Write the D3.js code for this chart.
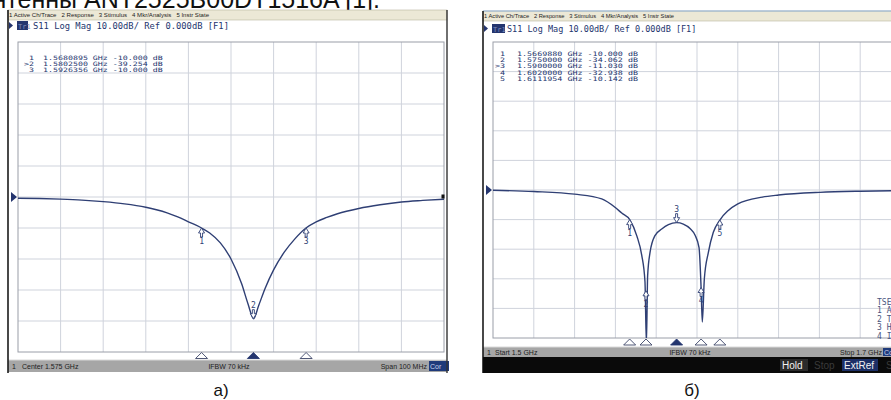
<!DOCTYPE html>
<html><head><meta charset="utf-8">
<script src="https://cdn.jsdelivr.net/npm/d3@7"></script>
<style>body{margin:0;background:#fff;} svg{display:block}</style>
</head><body><svg id="c" width="891" height="400"></svg>
<script>
// ---------- DATA ----------
// Panel a) : S11 single resonance, 1.525 - 1.625 GHz
const freqA = [1.525, 1.530, 1.535, 1.540, 1.545, 1.550, 1.555, 1.5575, 1.560, 1.5625, 1.565, 1.5681, 1.570, 1.5725, 1.575, 1.5775, 1.579, 1.5803, 1.5815, 1.583, 1.585, 1.5875, 1.590, 1.5926, 1.595, 1.5975, 1.600, 1.605, 1.610, 1.615, 1.620, 1.625];
const s11A  = [-0.4, -0.5, -0.7, -1.0, -1.5, -2.2, -3.3, -4.1, -5.1, -6.4, -8.0, -10.0, -11.6, -14.8, -20.0, -28.0, -34.5, -39.25, -35.0, -29.5, -23.5, -17.8, -13.5, -10.0, -8.0, -6.6, -5.4, -3.7, -2.5, -1.6, -1.1, -0.7];
const markerIdA   = ["1", "2", "3"];
const markerFreqA = [1.5680895, 1.5802500, 1.5926356];
const markerDbA   = [-10.000, -39.254, -10.000];
const activeA = 1;

// Panel б) : S11 dual resonance, 1.5 - 1.7 GHz
const freqB = [1.500, 1.520, 1.540, 1.5533, 1.5601, 1.5631, 1.567, 1.5705, 1.5729, 1.5745, 1.5752, 1.5758, 1.5770, 1.5794, 1.5827, 1.5860, 1.5900, 1.5933, 1.5966, 1.5990, 1.6010, 1.6020, 1.6026, 1.6036, 1.6056, 1.6080, 1.6112, 1.6152, 1.6200, 1.6320, 1.6400, 1.6600, 1.6800, 1.7000];
const s11B  = [-0.1, -0.5, -1.4, -3.0, -6.0, -7.8, -10.0, -15.5, -22.0, -31.0, -52.0, -29.0, -21.0, -15.4, -13.2, -11.7, -11.03, -11.5, -13.0, -15.2, -19.5, -32.9, -44.6, -30.0, -21.0, -14.3, -10.14, -7.0, -4.7, -2.4, -1.7, -0.8, -0.4, -0.2];
const markerIdB   = ["1", "2", "3", "4", "5"];
const markerFreqB = [1.5669880, 1.5750000, 1.5900000, 1.6020000, 1.6111954];
const markerDbB   = [-10.000, -34.062, -11.030, -32.938, -10.142];
const activeB = 2;

// texts
const titleText = "антенны ANT2525B00DT1516A [1].";
const menuItems = ["1 Active Ch/Trace", "2 Response", "3 Stimulus", "4 Mkr/Analysis", "5 Instr State"];
const headerText = "S11 Log Mag 10.00dB/ Ref 0.000dB [F1]";
const statusA = ["Center 1.575 GHz", "IFBW 70 kHz", "Span 100 MHz"];
const statusB = ["Start 1.5 GHz", "IFBW 70 kHz", "Stop 1.7 GHz"];
const softKeysB = ["Hold", "Stop", "ExtRef", "S"];
const tseLines = ["TSE", "1 A", "2 T", "3 H", "4 I"];
const panelLabels = ["а)", "б)"];

// ---------- DRAW ----------
const svg = d3.select("#c");
const NAVY = "#24356e", TRACE = "#2f3f74", GRID = "#cfd3dc", MONO = "DejaVu Sans Mono, monospace";

svg.append("text").attr("x", 380).attr("y", 8).attr("text-anchor", "end")
  .attr("font-family", "Liberation Sans, Arial, sans-serif").attr("font-size", 25)
  .attr("fill", "#111").text(titleText);

function panel(cfg) {
  const g = svg.append("g");
  const [fx0, fy0, fx1, fy1] = cfg.frame;
  const [px0, py0, px1, py1] = cfg.plot;
  const x = d3.scaleLinear().domain(cfg.domain).range([px0, px1]);
  const y = d3.scaleLinear().domain([-50, 50]).range([py1, py0]);

  g.append("rect").attr("x", fx0).attr("y", fy0).attr("width", fx1 - fx0).attr("height", fy1 - fy0).attr("fill", "#fff");
  const mb = cfg.menu;
  g.append("rect").attr("x", fx0).attr("y", mb[0]).attr("width", fx1 - fx0).attr("height", mb[1] - mb[0])
    .attr("fill", "#ece8d6").attr("stroke", "#b8b49e").attr("stroke-width", 0.6);
  if (cfg.menuTopBlue) g.append("line").attr("x1", fx0).attr("x2", fx1).attr("y1", mb[0]).attr("y2", mb[0]).attr("stroke", "#8fb1d8").attr("stroke-width", 1);
  g.append("text").attr("x", fx0 + 1).attr("y", mb[0] + 7).attr("font-family", "Liberation Sans, Arial, sans-serif")
    .attr("font-size", 5.6).attr("fill", "#222").attr("textLength", cfg.menuLen).attr("lengthAdjust", "spacingAndGlyphs")
    .attr("xml:space", "preserve").text(menuItems.join("   "));
  const hb = cfg.headerY;
  g.append("path").attr("d", `M${fx0 + 1},${hb - 7}L${fx0 + 5},${hb - 3.5}L${fx0 + 1},${hb}Z`).attr("fill", NAVY);
  g.append("rect").attr("x", cfg.trBox[0]).attr("y", hb - 8).attr("width", cfg.trBox[1]).attr("height", 9).attr("fill", NAVY);
  g.append("text").attr("x", cfg.trBox[0] + 1).attr("y", hb - 0.5).attr("font-family", MONO).attr("font-size", 7).attr("fill", "#7f8fbf").text("Tr1");
  g.append("text").attr("x", cfg.headerX).attr("y", hb).attr("font-family", MONO).attr("font-size", cfg.fs)
    .attr("fill", NAVY).attr("xml:space", "preserve").text(headerText);

  // grid
  const xs = d3.range(11).map(i => cfg.domain[0] + i * (cfg.domain[1] - cfg.domain[0]) / 10);
  const ys = d3.range(-50, 51, 10);
  g.selectAll(null).data(xs.slice(1, 10)).join("line")
    .attr("x1", d => x(d)).attr("x2", d => x(d)).attr("y1", py0).attr("y2", py1).attr("stroke", GRID).attr("stroke-width", 1);
  g.selectAll(null).data(ys.slice(1, 10)).join("line")
    .attr("x1", px0).attr("x2", px1).attr("y1", d => y(d)).attr("y2", d => y(d)).attr("stroke", GRID).attr("stroke-width", 1);
  g.append("rect").attr("x", px0).attr("y", py0).attr("width", px1 - px0).attr("height", py1 - py0)
    .attr("fill", "none").attr("stroke", "#9a9ea8").attr("stroke-width", 1);

  // marker table
  cfg.ids.forEach((id, i) => {
    const by = cfg.tableY + i * cfg.tableDy;
    const row = g.append("g").attr("transform", `translate(0,${by}) scale(1,${cfg.tableSy})`);
    row.append("text").attr("x", cfg.tcols[0]).attr("y", 0).attr("font-family", MONO).attr("font-size", cfg.tfs)
      .attr("fill", NAVY).attr("text-anchor", "end").text((i === cfg.active ? ">" : "") + id);
    row.append("text").attr("x", cfg.tcols[1]).attr("y", 0).attr("font-family", MONO).attr("font-size", cfg.tfs)
      .attr("fill", NAVY).attr("xml:space", "preserve")
      .text(cfg.mf[i].toFixed(7) + " GHz " + cfg.md[i].toFixed(3) + " dB");
  });

  // trace
  const clipId = "clip" + cfg.name;
  svg.append("clipPath").attr("id", clipId).append("rect").attr("x", px0).attr("y", py0).attr("width", px1 - px0).attr("height", py1 - py0);
  const pts = cfg.f.map((f, i) => [f, cfg.s[i]]);
  g.append("path").datum(pts).attr("clip-path", `url(#${clipId})`)
    .attr("d", d3.line().x(d => x(d[0])).y(d => y(d[1])).curve(d3.curveMonotoneX))
    .attr("fill", "none").attr("stroke", TRACE).attr("stroke-width", 1.4);

  // reference arrow
  g.append("path").attr("d", `M${px0 - 7},${y(0) - 5}L${px0 - 1},${y(0)}L${px0 - 7},${y(0) + 5}Z`).attr("fill", NAVY);

  // markers on trace
  cfg.ids.forEach((id, i) => {
    const mx = x(cfg.mf[i]), my = y(cfg.md[i]);
    const s = cfg.dirs[i] === "up" ? 1 : -1;
    const d = `M${mx},${my}L${mx - 3},${my + s * 5}L${mx - 1},${my + s * 5}L${mx - 1},${my + s * 9}L${mx + 1},${my + s * 9}L${mx + 1},${my + s * 5}L${mx + 3},${my + s * 5}Z`;
    g.append("path").attr("d", d).attr("fill", "#fff").attr("stroke", TRACE).attr("stroke-width", 0.9);
    g.append("text").attr("x", mx).attr("y", s > 0 ? my + 16 : my - 11).attr("text-anchor", "middle")
      .attr("font-family", MONO).attr("font-size", 8).attr("fill", TRACE).text(id);
  });

  // marker triangles below plot
  cfg.ids.forEach((id, i) => {
    const mx = x(cfg.mf[i]), ty = cfg.triY;
    g.append("path").attr("d", `M${mx},${ty}L${mx - 6},${ty + 6}L${mx + 6},${ty + 6}Z`)
      .attr("fill", i === cfg.active ? NAVY : "#fff").attr("stroke", i === cfg.active ? NAVY : "#3c4568").attr("stroke-width", 0.9);
  });

  // status bar
  const [sy0, sy1] = cfg.status;
  g.append("rect").attr("x", fx0).attr("y", sy0).attr("width", fx1 - fx0).attr("height", sy1 - sy0).attr("fill", "#a6a6a6");
  g.append("line").attr("x1", fx0).attr("x2", fx1).attr("y1", sy0).attr("y2", sy0).attr("stroke", "#d8d8d8");
  const st = (xx, s, anchor) => g.append("text").attr("x", xx).attr("y", sy0 + (sy1 - sy0) / 2 + 2.5)
    .attr("font-family", "Liberation Sans, Arial, sans-serif").attr("font-size", 7).attr("fill", "#1d1d1d")
    .attr("text-anchor", anchor || "start").text(s);
  st(fx0 + 4, "1");
  st(cfg.stX[0], cfg.st[0]);
  st(cfg.stX[1], cfg.st[1], "middle");
  st(cfg.stX[2], cfg.st[2], "end");
  g.append("rect").attr("x", cfg.corX).attr("y", sy0 + 1).attr("width", 20).attr("height", sy1 - sy0 - 2).attr("fill", "#1f3a7a");
  g.append("text").attr("x", cfg.corX + 1).attr("y", sy0 + (sy1 - sy0) / 2 + 2.5).attr("font-family", "Liberation Sans, Arial, sans-serif")
    .attr("font-size", 7).attr("fill", "#c9d3ee").text("Cor");

  g.append("line").attr("x1", fx0).attr("x2", fx0).attr("y1", fy0).attr("y2", fy1).attr("stroke", "#1a1a1a").attr("stroke-width", 1.6);
  g.append("line").attr("x1", fx1).attr("x2", fx1).attr("y1", fy0).attr("y2", fy1).attr("stroke", "#333").attr("stroke-width", 1.4);
  return { g, x, y };
}

const A = panel({
  name: "A", frame: [8, 10, 447, 373], plot: [18, 42, 444, 352], domain: [1.525, 1.625],
  menu: [10, 20], menuLen: 200, headerY: 29, headerX: 33, trBox: [17, 11], fs: 8.8,
  ids: markerIdA, mf: markerFreqA, md: markerDbA, active: activeA, dirs: ["up", "down", "up"],
  tableY: 59.5, tableDy: 6.0, tableSy: 0.72, tfs: 8.3, tcols: [34, 43],
  f: freqA, s: s11A, triY: 352.5, status: [360, 372], st: statusA, stX: [22, 229, 427], corX: 429
});
A.g.append("rect").attr("x", 441.5).attr("y", A.y(0) - 2.5).attr("width", 3).attr("height", 4).attr("fill", "#111");

const B = panel({
  name: "B", frame: [483, 11, 905, 373], plot: [493, 42, 901, 338], domain: [1.5, 1.7],
  menu: [11, 21], menuLen: 190, menuTopBlue: true, headerY: 32, headerX: 507, trBox: [492, 13], fs: 8.5,
  ids: markerIdB, mf: markerFreqB, md: markerDbB, active: activeB, dirs: ["up", "up", "down", "up", "up"],
  tableY: 56, tableDy: 6.2, tableSy: 0.72, tfs: 8.4, tcols: [505, 517],
  f: freqB, s: s11B, triY: 339, status: [347, 357], st: statusB, stX: [495, 690, 882], corX: 883
});

tseLines.forEach((t, i) => {
  B.g.append("text").attr("x", 877).attr("y", 305 + i * 8.4).attr("font-family", MONO).attr("font-size", 8)
    .attr("fill", "#4a5580").attr("xml:space", "preserve").text(t);
});

B.g.append("rect").attr("x", 483).attr("y", 357).attr("width", 420).attr("height", 16).attr("fill", "#0a0a0a");
const keyX = [780, 812, 842, 884], keyW = [28, 0, 36, 0];
softKeysB.forEach((k, i) => {
  const bright = i === 0 || i === 2;
  if (keyW[i]) B.g.append("rect").attr("x", keyX[i]).attr("y", 359).attr("width", keyW[i]).attr("height", 12)
    .attr("fill", i === 0 ? "#2b2b2b" : "#1c2f66");
  B.g.append("text").attr("x", keyX[i] + 2).attr("y", 369).attr("font-family", "Liberation Sans, Arial, sans-serif")
    .attr("font-size", 10).attr("fill", bright ? "#f2f2f2" : "#3a3a3a").text(k);
});

svg.selectAll(null).data(panelLabels).join("text")
  .attr("x", (d, i) => i === 0 ? 221 : 692).attr("y", 396).attr("text-anchor", "middle")
  .attr("font-family", "Liberation Sans, Arial, sans-serif").attr("font-size", 17).attr("fill", "#111").text(d => d);
</script></body></html>
